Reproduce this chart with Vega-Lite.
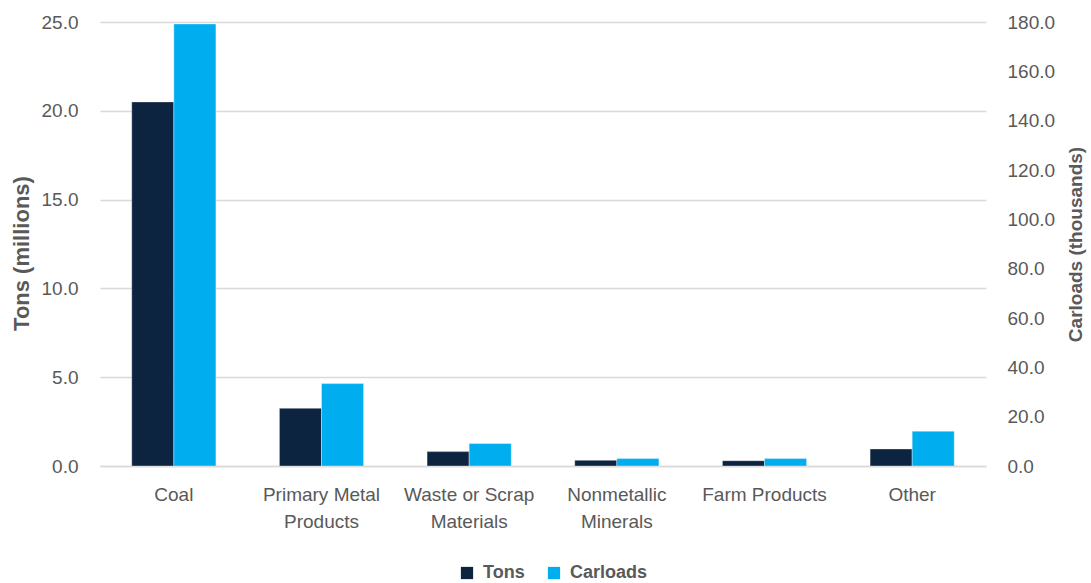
{
  "$schema": "https://vega.github.io/schema/vega-lite/v6.json",
  "width": 886,
  "height": 444,
  "autosize": {"type": "none"},
  "padding": {"left": 100, "top": 22, "right": 105, "bottom": 117},
  "background": "white",
  "config": {
    "view": {"stroke": null},
    "font": "Liberation Sans",
    "axis": {"labelFont": "Liberation Sans", "titleFont": "Liberation Sans", "labelColor": "#595959", "titleColor": "#595959", "labelFontSize": 19, "titleFontSize": 18, "titleFontWeight": "bold"}
  },
  "data": {
    "values": [
      {"category": "Coal", "series": "Tons", "value": 20.5},
      {"category": "Primary Metal Products", "series": "Tons", "value": 3.25},
      {"category": "Waste or Scrap Materials", "series": "Tons", "value": 0.81},
      {"category": "Nonmetallic Minerals", "series": "Tons", "value": 0.32},
      {"category": "Farm Products", "series": "Tons", "value": 0.3},
      {"category": "Other", "series": "Tons", "value": 0.96},
      {"category": "Coal", "series": "Carloads", "value": 179.2},
      {"category": "Primary Metal Products", "series": "Carloads", "value": 33.4},
      {"category": "Waste or Scrap Materials", "series": "Carloads", "value": 9.1},
      {"category": "Nonmetallic Minerals", "series": "Carloads", "value": 3.0},
      {"category": "Farm Products", "series": "Carloads", "value": 3.0},
      {"category": "Other", "series": "Carloads", "value": 14.1}
    ]
  },
  "encoding": {
    "x": {
      "field": "category",
      "type": "nominal",
      "sort": null,
      "scale": {"paddingInner": 0.43, "paddingOuter": 0.215},
      "axis": {
        "title": null,
        "labelAngle": 0,
        "ticks": false,
        "tickSize": 0,
        "labelPadding": 19,
        "labelLineHeight": 27,
        "domain": true,
        "domainColor": "#D9D9D9",
        "domainWidth": 1.5,
        "labelExpr": "datum.value == 'Primary Metal Products' ? ['Primary Metal', 'Products'] : datum.value == 'Waste or Scrap Materials' ? ['Waste or Scrap', 'Materials'] : datum.value == 'Nonmetallic Minerals' ? ['Nonmetallic', 'Minerals'] : datum.value"
      }
    },
    "xOffset": {"field": "series", "type": "nominal", "scale": {"domain": ["Tons", "Carloads"], "paddingInner": 0, "paddingOuter": 0}},
    "color": {
      "field": "series",
      "type": "nominal",
      "scale": {"domain": ["Tons", "Carloads"], "range": ["#0D2440", "#00AEEF"]},
      "legend": {
        "title": null,
        "orient": "none",
        "direction": "horizontal",
        "legendX": 358,
        "legendY": 542,
        "padding": 0,
        "symbolType": "square",
        "symbolSize": 150,
        "symbolStrokeWidth": 0,
        "labelFont": "Liberation Sans",
        "labelFontSize": 18,
        "labelFontWeight": "bold",
        "labelColor": "#595959",
        "labelOffset": 7,
        "columnPadding": 20
      }
    }
  },
  "layer": [
    {
      "transform": [{"filter": "datum.series == 'Tons'"}],
      "mark": {"type": "bar", "stroke": "#ffffff", "strokeWidth": 0.6, "strokeOpacity": 0.6},
      "encoding": {
        "y": {
          "field": "value",
          "type": "quantitative",
          "scale": {"domain": [0, 25], "nice": false},
          "axis": {
            "title": "Tons (millions)",
            "titleFontSize": 22,
            "titleY": 231,
            "orient": "left",
            "values": [0, 5, 10, 15, 20, 25],
            "format": ".1f",
            "ticks": false,
            "tickSize": 0,
            "domain": false,
            "labelPadding": 22,
            "titlePadding": 8,
            "grid": true,
            "gridColor": "#D9D9D9",
            "gridWidth": 1.5
          }
        }
      }
    },
    {
      "transform": [{"filter": "datum.series == 'Carloads'"}],
      "mark": {"type": "bar", "stroke": "#ffffff", "strokeWidth": 0.6, "strokeOpacity": 0.6},
      "encoding": {
        "y": {
          "field": "value",
          "type": "quantitative",
          "scale": {"domain": [0, 180], "nice": false},
          "axis": {
            "title": "Carloads (thousands)",
            "titleFontSize": 19,
            "titleAngle": 270,
            "titleBaseline": "top",
            "orient": "right",
            "values": [0, 20, 40, 60, 80, 100, 120, 140, 160, 180],
            "format": ".1f",
            "ticks": false,
            "tickSize": 0,
            "domain": false,
            "grid": false,
            "labelPadding": 21,
            "titlePadding": 12
          }
        }
      }
    }
  ],
  "resolve": {"scale": {"y": "independent"}}
}
